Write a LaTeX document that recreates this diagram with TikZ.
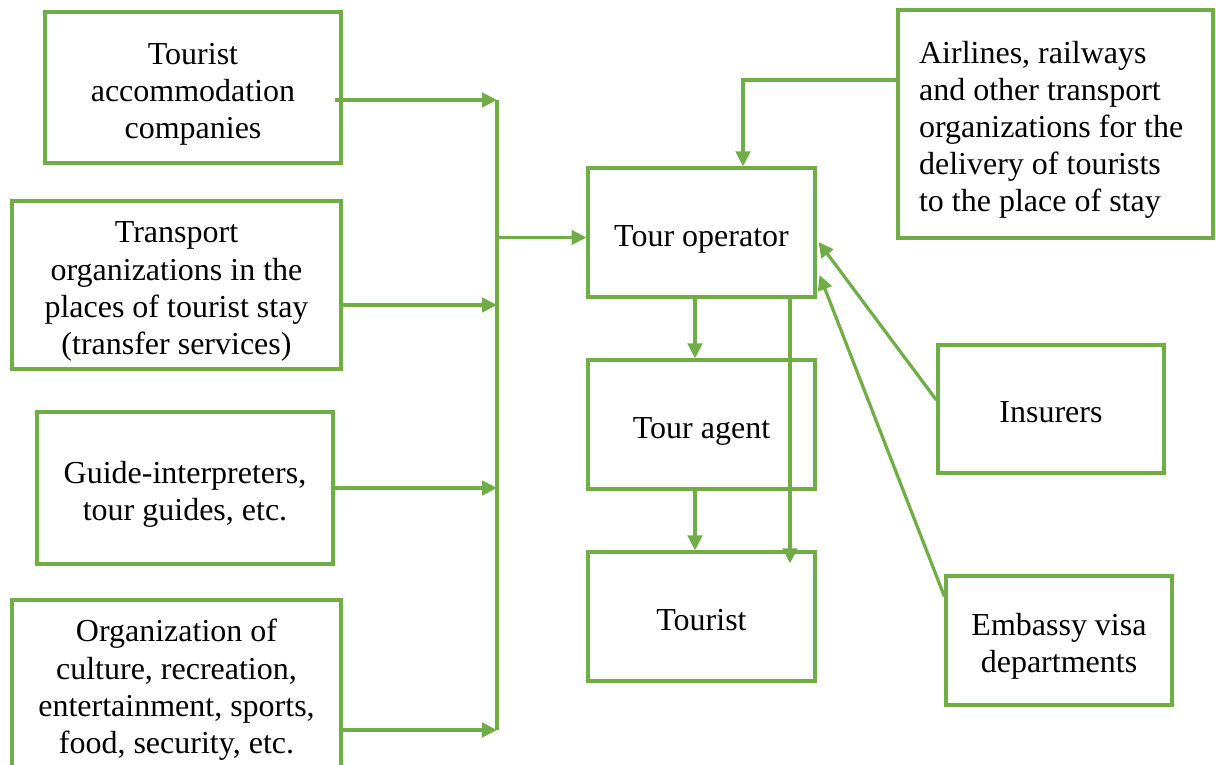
\documentclass[tikz,border=0pt]{standalone}
\usepackage{fontspec}
\setmainfont{Liberation Serif}
\usetikzlibrary{arrows.meta,calc}

\definecolor{linegreen}{RGB}{112,173,71}

\tikzset{
  box/.style={draw=linegreen, line width=1.2pt, align=center, inner sep=2pt,
    font=\fontsize{12}{13.9}\selectfont,
    execute at begin node={\spaceskip=3pt\relax\rule{0pt}{13.2pt}},
    execute at end node={\rule[-3pt]{0pt}{3pt}}},
  link/.style={draw=linegreen, line width=1.2pt},
  arrowlink/.style={link, -{Triangle[length=5.6pt,width=5.4pt]}}
}

\begin{document}
\begin{tikzpicture}[x=0.375pt,y=-0.375pt]
\useasboundingbox (0,0) rectangle (1216,765);

% Left column: suppliers (top to bottom)
\node [box, text width=107pt, minimum height=56.6pt] (acc) at (193,87.5)
  {Tourist\\accommodation\\companies};
\node [box, text width=119.4pt, minimum height=63pt] (trans) at (176.5,285)
  {Transport\\organizations in the\\places of tourist stay\\(transfer services)};
\node [box, text width=107pt, minimum height=57pt] (guide) at (185,488)
  {Guide-interpreters,\\tour guides, etc.};
\node [box, text width=119.4pt, minimum height=63pt] (culture) at (176.5,684)
  {Organization of\\culture, recreation,\\entertainment, sports,\\food, security, etc.};

% Middle column: operator, agent, tourist
\node [box, minimum width=85.1pt, minimum height=48.4pt] (op) at (701.5,232.5) {Tour operator};
\node [box, minimum width=85.1pt, minimum height=48.4pt] (agent) at (701.5,424.5) {Tour agent};
\node [box, minimum width=85.1pt, minimum height=48.4pt] (tourist) at (701.5,616.5) {Tourist};

% Right column
\node [box, align=left, inner xsep=7.9pt, text width=102.3pt, minimum height=85.5pt] (air) at (1055.5,124)
  {Airlines, railways\\and other transport\\organizations for the\\delivery of tourists\\to the place of stay};
\node [box, minimum width=84.8pt, minimum height=48pt] (ins) at (1051,409) {Insurers};
\node [box, text width=80.8pt, minimum height=48.4pt] (emb) at (1059,640.5) {Embassy visa\\departments};

% Collecting line
\coordinate (bustop) at (497,100);
\coordinate (busbot) at (497,730);
\draw [link] (bustop) -- (busbot);

% Suppliers into the collecting line
\coordinate (accout) at ($(acc.east |- bustop)+(-8,0)$);
\coordinate (transout) at ($(trans.east)+(0,20)$);
\coordinate (cultout) at ($(culture.east)+(0,46)$);
\coordinate (opin) at ($(op.west)+(0,5)$);
\draw [arrowlink] (accout) -- (bustop);
\draw [arrowlink] (transout) -- (transout -| bustop);
\draw [arrowlink] (guide.east) -- (guide.east -| bustop);
\draw [arrowlink] (cultout) -- (busbot);
\draw [arrowlink] (opin -| bustop) -- (opin);

% Transport companies into the operator
\draw [arrowlink] ($(air.west)+(0,-44)$) -| ($(op.north)+(41.5,0)$);

% Operator to agent and tourist
\draw [arrowlink] ($(op.south)+(-6.5,0)$) -- ($(agent.north)+(-6.5,0)$);
\draw [arrowlink] ($(agent.south)+(-6.5,0)$) -- ($(tourist.north)+(-6.5,0)$);
\draw [arrowlink] ($(op.south)+(88.5,0)$) -- ($(tourist.north)+(88.5,13)$);

% Insurers and embassies into the operator
\draw [arrowlink] ($(ins.west)+(0,-9)$) -- ($(op.east)+(2,9.5)$);
\draw [arrowlink] ($(emb.north west)+(0,22)$) -- ($(op.east)+(3,42.5)$);

\end{tikzpicture}
\end{document}
